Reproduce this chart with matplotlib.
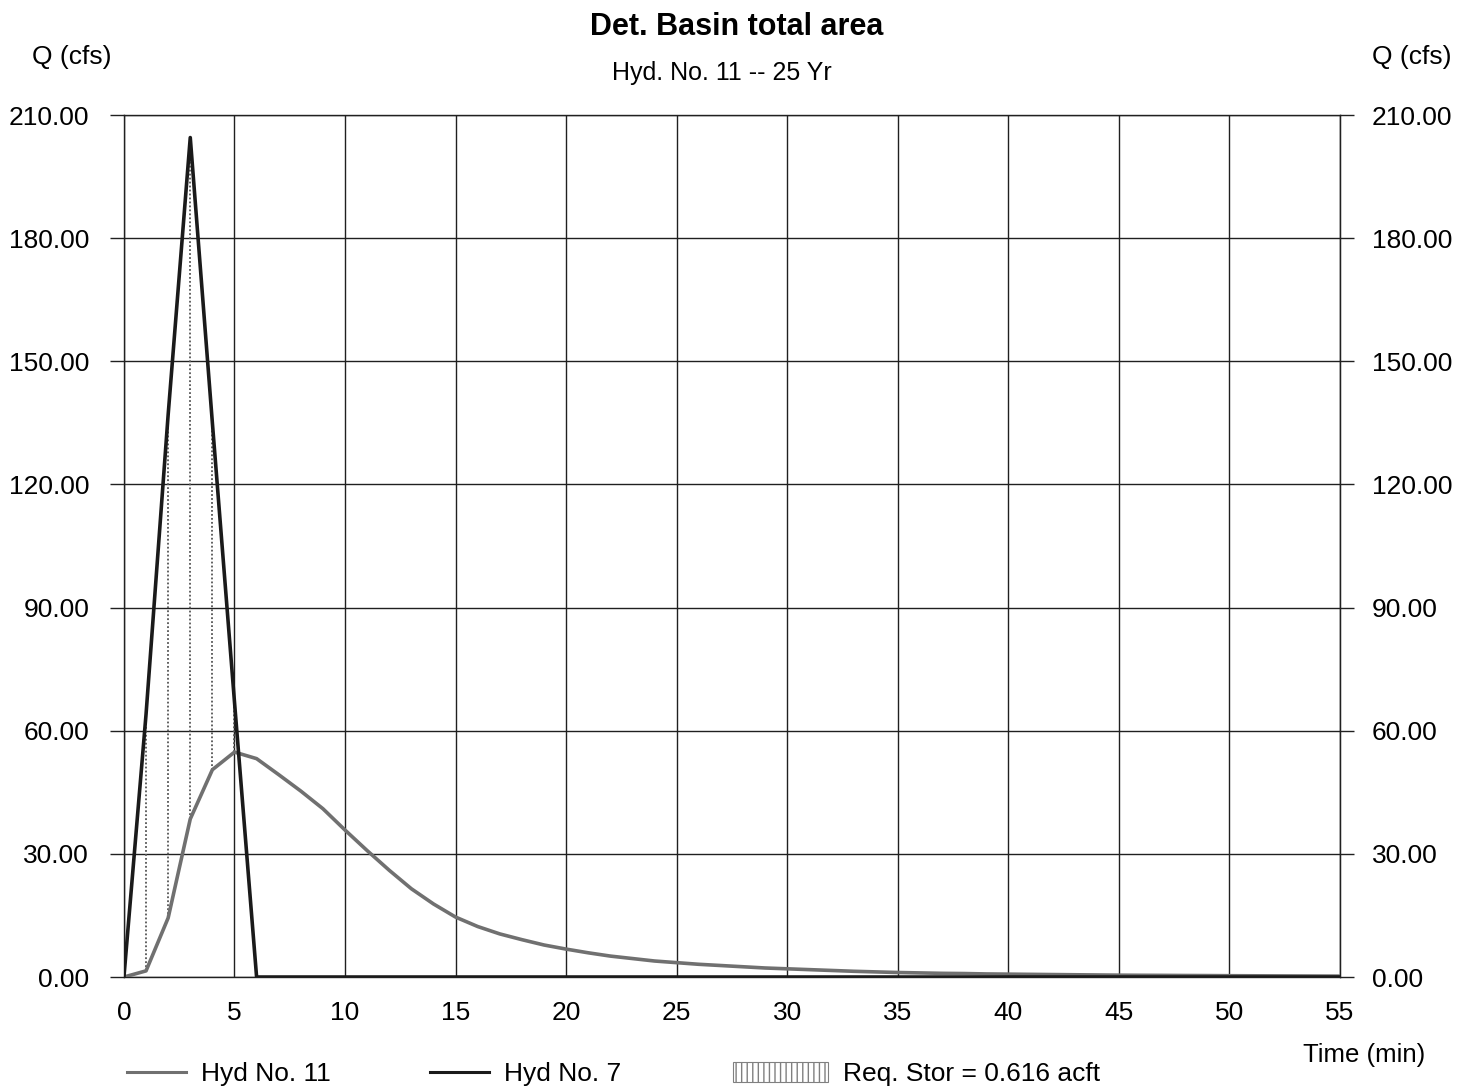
import numpy as np
import matplotlib
matplotlib.use("Agg")
import matplotlib.pyplot as plt
from matplotlib.lines import Line2D
from matplotlib.patches import Patch

plt.rcParams['font.family'] = ['Liberation Sans', 'DejaVu Sans']

# time in minutes, 1-min steps
time_min = list(range(0, 56))

# Hyd No. 7 (inflow)
hyd_7 = [0, 64, 137, 204.5, 135, 67, 0] + [0] * 49

# Hyd No. 11 (basin outflow)
hyd_11 = [0, 1.5, 14.4, 38.5, 50.5, 54.8, 53.2, 49.3, 45.3, 41.0,
          35.8, 30.8, 26.0, 21.5, 17.8, 14.6, 12.3, 10.5, 9.1, 7.8,
          6.8, 5.9, 5.1, 4.5, 3.9, 3.5, 3.1, 2.8, 2.5, 2.2,
          2.0, 1.8, 1.6, 1.4, 1.25, 1.1, 1.0, 0.9, 0.85, 0.75,
          0.7, 0.65, 0.6, 0.55, 0.5, 0.45, 0.42, 0.4, 0.37, 0.35,
          0.32, 0.3, 0.28, 0.26, 0.24, 0.22]

x_ticks = list(range(0, 60, 5))
y_ticks = [0, 30, 60, 90, 120, 150, 180, 210]

title = "Det. Basin total area"
subtitle = "Hyd. No. 11 -- 25 Yr"
req_stor = "Req. Stor = 0.616 acft"

c_in = "#1a1a1a"
c_out = "#707070"
c_grid = "#202020"

fig = plt.figure(figsize=(14.58, 10.88), dpi=100)
ax = fig.add_axes([0.0850, 0.1020, 0.8341, 0.7923])

t = np.array(time_min)
q_in = np.array(hyd_7)
q_out = np.array(hyd_11)

# required storage hatch: dotted verticals between inflow and outflow
fill = q_in > q_out
ax.vlines(t[fill], q_out[fill], q_in[fill], colors="#555555",
          linestyles=(0, (1, 1.2)), linewidth=1.3, zorder=2)

ax.plot(t, q_out, color=c_out, lw=2.6, zorder=3)
ax.plot(t, q_in, color=c_in, lw=2.6, zorder=4)

ax.set_xlim(0, 55)
ax.set_ylim(0, 210)
ax.set_xticks(x_ticks)
ax.set_yticks(y_ticks)
ax.set_yticklabels([f"{v:.2f}" for v in y_ticks])
ax.grid(True, color=c_grid, lw=1.0)
for s in ax.spines.values():
    s.set_color(c_grid)
    s.set_linewidth(1.0)
ax.tick_params(axis='x', length=0, pad=17, labelsize=19)
ax.tick_params(axis='y', length=10, width=1.0, color=c_grid, pad=15,
               labelsize=19, direction='out')

sec = ax.secondary_yaxis('right')
sec.set_yticks(y_ticks)
sec.set_yticklabels([f"{v:.2f}" for v in y_ticks])
sec.tick_params(axis='y', length=10, width=1.0, color=c_grid, pad=13,
                labelsize=19, direction='out')
sec.spines['right'].set_color(c_grid)

fig.text(0.505, 0.975, title, ha='center', va='center', fontsize=22,
         fontweight='bold')
fig.text(0.495, 0.933, subtitle, ha='center', va='center', fontsize=18)
fig.text(0.049, 0.9476, "Q (cfs)", ha='center', va='center', fontsize=19)
fig.text(0.968, 0.9476, "Q (cfs)", ha='center', va='center', fontsize=19)
fig.text(0.9355, 0.030, "Time (min)", ha='center', va='center', fontsize=18.5)

leg_kw = dict(loc='center left', frameon=False, fontsize=19,
              borderaxespad=0, borderpad=0, handletextpad=0.55)
fig.legend([Line2D([], [], color=c_out, lw=2.2)], ["Hyd No. 11"],
           bbox_to_anchor=(0.087, 0.013), handlelength=2.25, **leg_kw)
fig.legend([Line2D([], [], color=c_in, lw=2.2)], ["Hyd No. 7"],
           bbox_to_anchor=(0.295, 0.013), handlelength=2.25, **leg_kw)
fig.legend([Patch(facecolor='white', edgecolor='#808080', hatch='|||', lw=0.8)],
           [req_stor], bbox_to_anchor=(0.503, 0.013), handlelength=3.6,
           handleheight=0.8, **leg_kw)

fig.savefig("out.png", dpi=100)
